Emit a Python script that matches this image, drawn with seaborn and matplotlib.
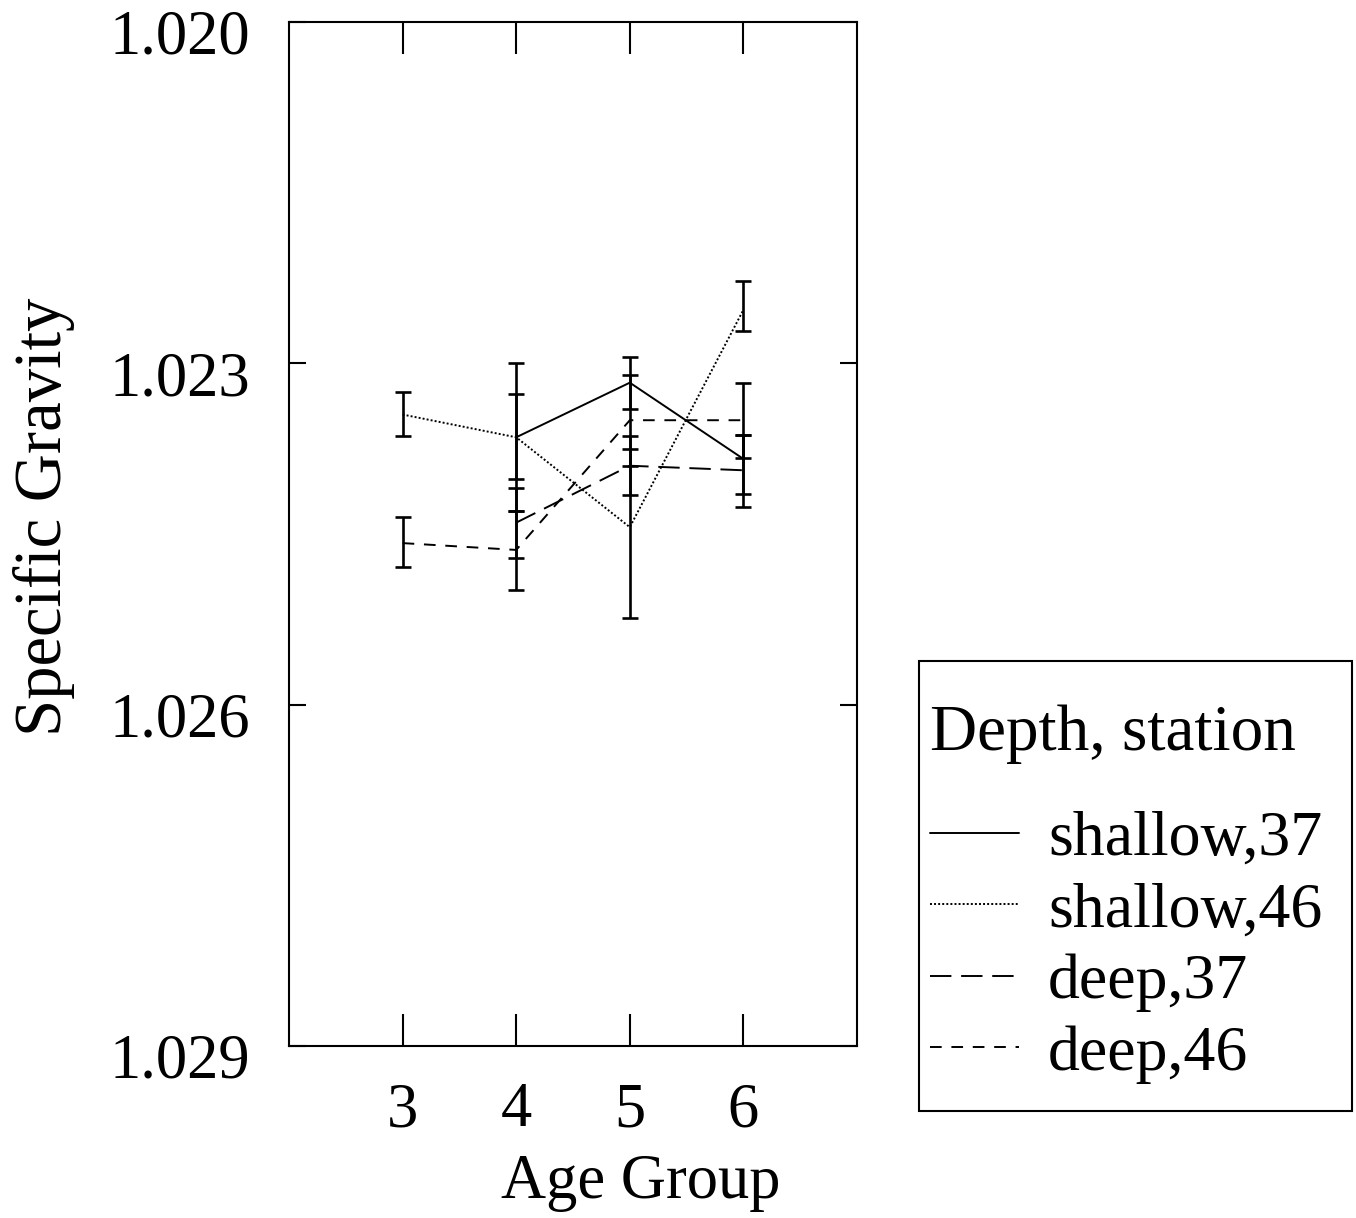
import numpy as np
import pandas as pd
import matplotlib
matplotlib.use("Agg")
import matplotlib.pyplot as plt
import seaborn as sns
from matplotlib.patches import Rectangle
from matplotlib.transforms import ScaledTranslation

# Age groups on the x axis
ages = [3, 4, 5, 6]
series_names = ["shallow,37", "shallow,46", "deep,37", "deep,46"]

# Mean specific gravity and lower/upper error limits per series
shallow37_mean = [np.nan, 1.02365, 1.02317, 1.02384]
shallow37_low = [np.nan, 1.02300, 1.02294, 1.02363]
shallow37_high = [np.nan, 1.02430, 1.02340, 1.02415]

shallow46_mean = [1.02345, 1.02365, 1.02444, 1.02253]
shallow46_low = [1.02325, 1.02327, 1.02364, 1.02228]
shallow46_high = [1.02364, 1.02402, 1.02524, 1.02272]

deep37_mean = [np.nan, 1.02440, 1.02390, 1.02394]
deep37_low = [np.nan, 1.02410, 1.02375, 1.02363]
deep37_high = [np.nan, 1.02471, 1.02416, 1.02426]

deep46_mean = [1.02458, 1.02464, 1.02350, 1.02350]
deep46_low = [1.02435, 1.02430, 1.02310, 1.02317]
deep46_high = [1.02479, 1.02499, 1.02390, 1.02383]

y_ticks = [1.020, 1.023, 1.026, 1.029]

means = [shallow37_mean, shallow46_mean, deep37_mean, deep46_mean]
lows = [shallow37_low, shallow46_low, deep37_low, deep46_low]
highs = [shallow37_high, shallow46_high, deep37_high, deep46_high]

rows = []
for name, m in zip(series_names, means):
    for a, v in zip(ages, m):
        if not np.isnan(v):
            rows.append({"Age Group": a, "Specific Gravity": v, "series": name})
df = pd.DataFrame(rows)

sns.set_theme(style="white")
plt.rcParams["font.family"] = ["Liberation Serif", "DejaVu Serif"]
plt.rcParams["text.color"] = "black"
plt.rcParams["axes.labelcolor"] = "black"
plt.rcParams["xtick.color"] = "black"
plt.rcParams["ytick.color"] = "black"

W, H = 1356, 1218
fig = plt.figure(figsize=(W / 100, H / 100), dpi=100)
ax = fig.add_axes([289 / W, 1 - 1046 / H, (857 - 289) / W, (1046 - 22) / H])

dash_map = {
    "shallow,37": "",
    "shallow,46": (1, 1.1),
    "deep,37": (11, 5),
    "deep,46": (6, 5),
}

sns.lineplot(data=df, x="Age Group", y="Specific Gravity", style="series",
             style_order=series_names, dashes=dash_map, color="black",
             linewidth=1.4, errorbar=None, ax=ax, legend="full")

for m, lo, hi in zip(means, lows, highs):
    m = np.asarray(m); lo = np.asarray(lo); hi = np.asarray(hi)
    ok = ~np.isnan(m)
    x = np.asarray(ages)[ok]
    ax.errorbar(x, m[ok], yerr=[m[ok] - lo[ok], hi[ok] - m[ok]], fmt="none",
                ecolor="black", elinewidth=1.9, capsize=6, capthick=1.9)

ax.set_xlim(2, 7)
ax.set_ylim(1.029, 1.020)
ax.set_xticks(ages)
ax.set_xticklabels([str(a) for a in ages])
ax.set_yticks(y_ticks)
ax.set_yticklabels([f"{t:.3f}" for t in y_ticks])

for s in ax.spines.values():
    s.set_visible(True)
    s.set_color("black")
    s.set_linewidth(1.5)

ax.tick_params(axis="x", direction="in", length=23, width=1.5, top=True, bottom=True,
               labelsize=45, pad=26, colors="black")
ax.tick_params(axis="y", direction="in", length=12, width=1.5, left=True, right=True,
               labelsize=45, pad=28, colors="black")
for lab in ax.get_yticklabels():
    lab.set_transform(lab.get_transform() + ScaledTranslation(0, -0.1, fig.dpi_scale_trans))

ax.set_xlabel("Age Group", fontsize=45, color="black")
ax.set_ylabel("Specific Gravity", fontsize=48, color="black")
ax.xaxis.set_label_coords(0.62, -0.105)
ax.yaxis.set_label_coords(-0.376, 0.517)

# Rebuild the legend in the figure margin
old = ax.get_legend()
handles = list(old.legend_handles)
labels = [t.get_text() for t in old.get_texts()]
old.remove()
for h in handles:
    h.set_color("black")
    h.set_linewidth(1.4)

leg = fig.legend(handles, labels, title="Depth, station", loc="upper left",
                 bbox_to_anchor=(930 / W, 1 - 705 / H), frameon=False,
                 fontsize=46, title_fontsize=47,
                 handlelength=1.4, handletextpad=0.45, labelspacing=0.2,
                 borderpad=0, borderaxespad=0, alignment="left")
leg._legend_box.sep = 33

# Square frame around the legend block
fig.patches.append(Rectangle((919 / W, 1 - 1111 / H), (1352 - 919) / W, (1111 - 661) / H,
                             transform=fig.transFigure, fill=False,
                             edgecolor="black", linewidth=1.5))

fig.savefig("out.png", dpi=100, facecolor="white")
